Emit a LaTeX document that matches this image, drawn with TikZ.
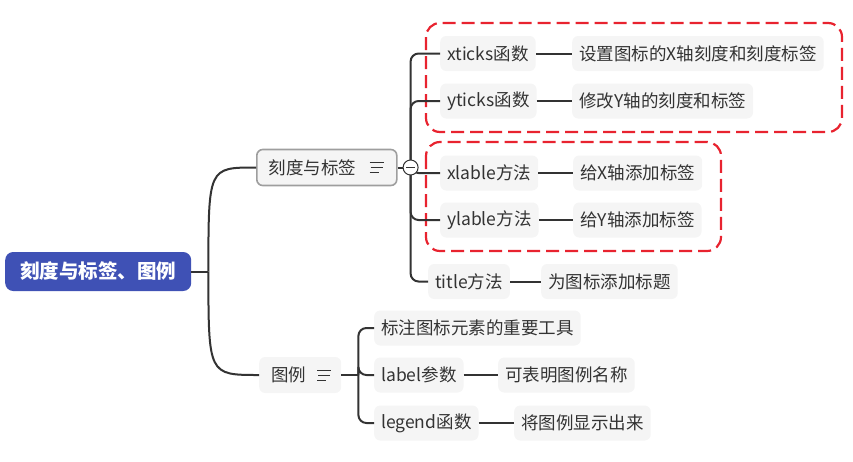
\documentclass[tikz,border=0pt]{standalone}
\usepackage{fontspec}
\setmainfont{Noto Sans CJK SC}
\usetikzlibrary{calc, shapes, backgrounds}

\definecolor{rootblue}{HTML}{3F51B5}
\definecolor{boxgray}{HTML}{F5F5F5}
\definecolor{inkgray}{HTML}{333333}
\definecolor{framegray}{HTML}{9E9E9E}
\definecolor{markred}{HTML}{E8232F}

\tikzset{
  root/.style={fill=rootblue, text=white, rounded corners=8pt, anchor=west,
    minimum height=39pt, inner xsep=15pt, inner ysep=0pt,
    font=\fontsize{19.5}{22}\selectfont\bfseries},
  topic/.style={fill=boxgray, text=inkgray, rounded corners=6pt, anchor=west,
    minimum height=36pt, inner xsep=12pt, inner ysep=0pt, align=left,
    font=\fontsize{17.5}{20}\selectfont},
  leaf/.style={fill=boxgray, text=inkgray, rounded corners=6pt, anchor=west,
    minimum height=35pt, inner xsep=7pt, inner ysep=0pt,
    font=\fontsize{17.5}{20}\selectfont},
  branch/.style={draw=inkgray, line width=2pt},
  redframe/.style={draw=markred, line width=2.2pt, dash pattern=on 13pt off 6pt,
    rounded corners=14pt},
  menuline/.style={draw=inkgray, line width=1pt},
}

% three small lines on the right of a topic box
\newcommand\topicmenu[1]{%
  \draw[menuline] ($(#1)+(-7,-5)$) -- ++(14,0);
  \draw[menuline] ($(#1)+(-6,0)$) -- ++(12,0);
  \draw[menuline] ($(#1)+(-7,5)$) -- ++(9,0);
}

\begin{document}
\begin{tikzpicture}[x=1pt, y=-1pt]
  \useasboundingbox (0,0) rectangle (853,461);

  % red marks
  \draw[redframe] (426,23) rectangle (842,132);
  \draw[redframe] (426,142) rectangle (721,251);

  % root and topics
  \node[root] (root) at (5,271.5) {刻度与标签、图例};
  \node[topic, draw=framegray, line width=1.6pt, text width=116pt] (ticks) at (256,167.5) {刻度与标签};
  \node[topic, text width=58pt] (legend) at (259,375) {图例};
  \topicmenu{$(ticks.east)+(-21,0)$}
  \topicmenu{$(legend.east)+(-17,0)$}

  % subtopics of ticks
  \node[leaf] (xt) at (440,53.5) {xticks函数};
  \node[leaf] (xtd) at (572,53.5) {设置图标的X轴刻度和刻度标签};
  \node[leaf] (yt) at (440,101) {yticks函数};
  \node[leaf] (ytd) at (572,101) {修改Y轴的刻度和标签};
  \node[leaf] (xl) at (440,173) {xlable方法};
  \node[leaf] (xld) at (573,173) {给X轴添加标签};
  \node[leaf] (yl) at (440,220) {ylable方法};
  \node[leaf] (yld) at (573,220) {给Y轴添加标签};
  \node[leaf] (tt) at (428,281.5) {title方法};
  \node[leaf] (ttd) at (541,281.5) {为图标添加标题};

  % subtopics of legend
  \node[leaf] (lg) at (374,328) {标注图标元素的重要工具};
  \node[leaf] (lb) at (374,375) {label参数};
  \node[leaf] (lbd) at (498,375) {可表明图例名称};
  \node[leaf] (lf) at (374,423) {legend函数};
  \node[leaf] (lfd) at (514,423) {将图例显示出来};

  % root branches
  \draw[branch] (root.east) -- ++(17,0) coordinate (rj);
  \draw[branch] (rj) .. controls (rj |- ticks.west) and (rj |- ticks.west) .. (ticks.west);
  \draw[branch] (rj) .. controls (rj |- legend.west) and (rj |- legend.west) .. (legend.west);

  % ticks branches
  \coordinate (cj) at ($(ticks.east)+(13,0)$);
  \draw[branch] (ticks.east) -- (cj);
  \foreach \n in {xt, yt, xl, yl, tt}
    \draw[branch, rounded corners=8pt] (cj) |- (\n.west);
  \node[circle, draw=inkgray, line width=1pt, fill=white, minimum size=15pt, inner sep=0pt] (fold) at (cj) {};
  \draw[inkgray, line width=1pt] ($(fold.center)+(-4.5,0)$) -- ($(fold.center)+(4.5,0)$);

  % legend branches
  \draw[branch] (legend.east) -- ++(17,0) coordinate (lj);
  \foreach \n in {lg, lb, lf}
    \draw[branch, rounded corners=8pt] (lj) |- (\n.west);

  % leaves
  \draw[branch] (xt.east) -- (xtd.west);
  \draw[branch] (yt.east) -- (ytd.west);
  \draw[branch] (xl.east) -- (xld.west);
  \draw[branch] (yl.east) -- (yld.west);
  \draw[branch] (tt.east) -- (ttd.west);
  \draw[branch] (lb.east) -- (lbd.west);
  \draw[branch] (lf.east) -- (lfd.west);
\end{tikzpicture}
\end{document}
